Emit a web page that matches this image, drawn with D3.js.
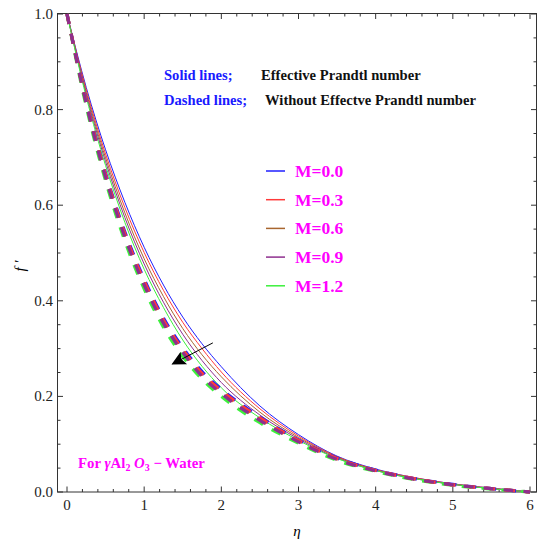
<!DOCTYPE html>
<html>
<head>
<meta charset="utf-8">
<script src="https://cdn.jsdelivr.net/npm/d3@7"></script>
<style>
  body { margin: 0; background: #fff; }
  svg { font-family: "Liberation Serif", "Times New Roman", serif; }
</style>
</head>
<body>
<div id="chart"></div>
<script>
const eta = [0, 0.25, 0.5, 0.75, 1, 1.25, 1.5, 1.75, 2, 2.5, 3, 3.5, 4, 4.5, 5, 5.5, 6]
const mLabels = ['M=0.0', 'M=0.3', 'M=0.6', 'M=0.9', 'M=1.2']
const colors = ['#1f1fff', '#ff3a3a', '#a8662e', '#8e2f8e', '#3cf03c']

// solid: with effective Prandtl number
const solid = [
	[1, 0.846, 0.716, 0.606, 0.512, 0.433, 0.366, 0.310, 0.262, 0.180, 0.120, 0.075, 0.048, 0.030, 0.017, 0.008, 0],
	[1, 0.841, 0.707, 0.595, 0.501, 0.422, 0.355, 0.300, 0.251, 0.174, 0.117, 0.074, 0.047, 0.030, 0.017, 0.008, 0],
	[1, 0.836, 0.699, 0.584, 0.488, 0.409, 0.342, 0.287, 0.241, 0.167, 0.114, 0.073, 0.046, 0.029, 0.016, 0.007, 0],
	[1, 0.831, 0.691, 0.574, 0.477, 0.397, 0.330, 0.275, 0.229, 0.161, 0.111, 0.071, 0.045, 0.028, 0.016, 0.007, 0],
	[1, 0.826, 0.683, 0.564, 0.466, 0.386, 0.318, 0.263, 0.218, 0.155, 0.108, 0.070, 0.045, 0.028, 0.016, 0.007, 0]
]
// dashed: without effective Prandtl number
const dashed = [
	[1, 0.818, 0.667, 0.544, 0.445, 0.364, 0.302, 0.252, 0.215, 0.157, 0.109, 0.071, 0.046, 0.028, 0.016, 0.007, 0],
	[1, 0.816, 0.664, 0.540, 0.441, 0.360, 0.298, 0.248, 0.212, 0.155, 0.108, 0.070, 0.045, 0.028, 0.015, 0.007, 0],
	[1, 0.814, 0.661, 0.537, 0.437, 0.356, 0.295, 0.245, 0.209, 0.152, 0.106, 0.069, 0.045, 0.027, 0.015, 0.007, 0],
	[1, 0.812, 0.658, 0.533, 0.433, 0.353, 0.292, 0.242, 0.206, 0.150, 0.105, 0.068, 0.044, 0.027, 0.015, 0.007, 0],
	[1, 0.806, 0.651, 0.525, 0.425, 0.345, 0.284, 0.236, 0.200, 0.145, 0.102, 0.066, 0.043, 0.026, 0.014, 0.006, 0]
]
const dashOrder = [4, 0, 2, 1, 3]
const xMajor = [0, 1, 2, 3, 4, 5, 6]
const yMajor = [0, 0.2, 0.4, 0.6, 0.8, 1.0]
const arrowFrom = [1.89, 0.312]
const arrowTo = [1.37, 0.268]

const W = 540, H = 546
const svg = d3.select('#chart').append('svg').attr('width', W).attr('height', H)

const frame = {left: 57.5, right: 536.5, top: 13.5, bottom: 492}
const x = d3.scaleLinear().domain([0, 6]).range([67, 530])
const y = d3.scaleLinear().domain([0, 1]).range([492, 14])

const xMinor = d3.range(0, 6.001, 0.2).map(v => +v.toFixed(2)).filter(v => !xMajor.includes(v))
const yMinor = d3.range(0, 1.001, 0.05).map(v => +v.toFixed(2)).filter(v => !yMajor.includes(v))

const g = svg.append('g')

// frame
g.append('rect')
	.attr('x', frame.left).attr('y', frame.top)
	.attr('width', frame.right - frame.left).attr('height', frame.bottom - frame.top)
	.attr('fill', 'none').attr('stroke', '#333').attr('stroke-width', 1)

const tick = (sel, vals, len, axis) => {
	vals.forEach(v => {
		if (axis === 'x') {
			sel.append('line').attr('x1', x(v)).attr('x2', x(v)).attr('y1', frame.bottom).attr('y2', frame.bottom - len)
			sel.append('line').attr('x1', x(v)).attr('x2', x(v)).attr('y1', frame.top).attr('y2', frame.top + len)
		} else {
			sel.append('line').attr('y1', y(v)).attr('y2', y(v)).attr('x1', frame.left).attr('x2', frame.left + len)
			sel.append('line').attr('y1', y(v)).attr('y2', y(v)).attr('x1', frame.right).attr('x2', frame.right - len)
		}
	})
}
const tg = g.append('g').attr('stroke', '#333').attr('stroke-width', 1)
tick(tg, xMajor, 5.5, 'x')
tick(tg, xMinor, 3, 'x')
tick(tg, yMajor, 5.5, 'y')
tick(tg, yMinor, 3, 'y')

g.selectAll('.xl').data(xMajor).enter().append('text')
	.attr('x', d => x(d)).attr('y', 510)
	.attr('text-anchor', 'middle').attr('font-size', 15).attr('fill', '#222')
	.text(d => d)

g.selectAll('.yl').data(yMajor).enter().append('text')
	.attr('x', 53).attr('y', d => y(d) + 5)
	.attr('text-anchor', 'end').attr('font-size', 15).attr('fill', '#222')
	.text(d => d3.format('.1f')(d))

svg.append('text').attr('x', 297).attr('y', 536)
	.attr('text-anchor', 'middle').attr('font-size', 15).attr('font-style', 'italic')
	.text('η')
svg.append('text').attr('transform', 'translate(25,266) rotate(-90)')
	.attr('text-anchor', 'middle').attr('font-size', 15).attr('font-style', 'italic')
	.text('f ′')

const line = d3.line()
	.x((d, i) => x(eta[i]))
	.y(d => y(d))
	.curve(d3.curveMonotoneX)

const plot = svg.append('g')
solid.forEach((s, i) => {
	plot.append('path').datum(s)
		.attr('d', line).attr('fill', 'none')
		.attr('stroke', colors[i]).attr('stroke-width', 1)
})
dashOrder.forEach(i => {
	plot.append('path').datum(dashed[i])
		.attr('d', line).attr('fill', 'none')
		.attr('stroke', colors[i]).attr('stroke-width', 3.2)
		.attr('stroke-dasharray', '10,10')
})

// arrow
svg.append('defs').append('marker')
	.attr('id', 'ah').attr('viewBox', '0 0 10 10')
	.attr('refX', 9).attr('refY', 5)
	.attr('markerWidth', 20).attr('markerHeight', 14)
	.attr('markerUnits', 'userSpaceOnUse')
	.attr('orient', 'auto')
	.append('path').attr('d', 'M0,0 L10,5 L0,10 L2,5 Z').attr('fill', '#000')
svg.append('line')
	.attr('x1', x(arrowFrom[0])).attr('y1', y(arrowFrom[1]))
	.attr('x2', x(arrowTo[0])).attr('y2', y(arrowTo[1]))
	.attr('stroke', '#000').attr('stroke-width', 1)
	.attr('marker-end', 'url(#ah)')

// notes
const note = svg.append('g').attr('font-weight', 'bold').attr('font-size', 14.6)
note.append('text').attr('x', 164).attr('y', 80).attr('fill', '#1a1aff').text('Solid lines;')
note.append('text').attr('x', 261).attr('y', 80).attr('fill', '#111').text('Effective Prandtl number')
note.append('text').attr('x', 164).attr('y', 105).attr('fill', '#1a1aff').text('Dashed lines;')
note.append('text').attr('x', 265).attr('y', 105).attr('fill', '#111').text('Without Effectve Prandtl number')

// legend
const lg = svg.append('g')
mLabels.forEach((m, i) => {
	const ly = 171 + i * 28.7
	lg.append('line').attr('x1', 266).attr('x2', 285).attr('y1', ly).attr('y2', ly)
		.attr('stroke', colors[i]).attr('stroke-width', 1.5)
	lg.append('text').attr('x', 295).attr('y', ly + 6)
		.attr('font-size', 17.5).attr('font-weight', 'bold').attr('fill', '#ff00ff')
		.text(m)
})

const ft = svg.append('text').attr('x', 78).attr('y', 468)
	.attr('font-size', 14.8).attr('font-weight', 'bold').attr('fill', '#ff00ff')
ft.append('tspan').text('For ')
ft.append('tspan').attr('font-style', 'italic').text('γ')
ft.append('tspan').text('Al')
ft.append('tspan').attr('font-size', 10).attr('dy', 3).text('2')
ft.append('tspan').attr('dy', -3).text(' ')
ft.append('tspan').attr('font-style', 'italic').text('O')
ft.append('tspan').attr('font-size', 10).attr('dy', 3).text('3')
ft.append('tspan').attr('dy', -3).text(' − Water')
</script>
</body>
</html>
